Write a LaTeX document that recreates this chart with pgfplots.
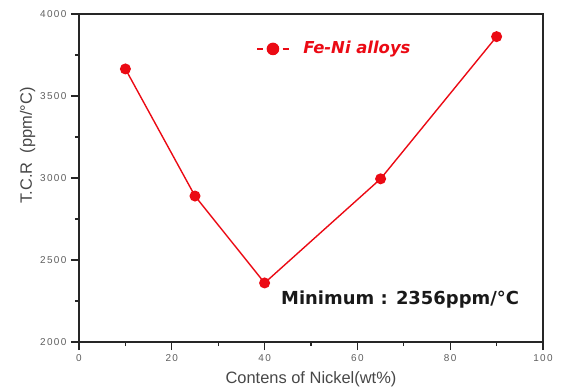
\documentclass[border=0pt]{standalone}
\usepackage{pgfplots}
\pgfplotsset{compat=1.18}
\usepackage{fontspec}
\setmainfont{Liberation Sans}
\newfontfamily\dejavu{DejaVu Sans}
\definecolor{lred}{RGB}{235,10,20}
\definecolor{tickgray}{RGB}{95,95,95}
\begin{document}
\begin{tikzpicture}
\path[use as bounding box] (-79bp,-48bp) rectangle (482bp,342bp);
\begin{axis}[
  at={(0,0)}, anchor=south west,
  scale only axis, width=464bp, height=328bp,
  xmin=0, xmax=100, ymin=2000, ymax=4000,
  xtick={0,20,...,100}, minor xtick={10,30,50,70,90},
  ytick={2000,2500,...,4000}, minor ytick={2250,2750,3250,3750},
  tick align=outside, xtick pos=bottom, ytick pos=left,
  major tick length=8bp, minor tick length=4bp,
  tick style={black!85, line width=1.2pt},
  axis line style={black!85, line width=1.5pt},
  /pgf/number format/assume math mode=true,
  /pgf/number format/1000 sep={},
  ticklabel style={font=\fontsize{10}{11}\selectfont\addfontfeature{LetterSpace=14}, text=tickgray},
  xticklabel style={yshift=-1bp},
  yticklabel style={xshift=-1bp},
  xlabel={Contens of Nickel(wt\%)},
  ylabel={T.C.R\ \ (ppm/°C)},
  label style={font=\fontsize{16.5}{18}\selectfont, text=black!72},
  xlabel style={yshift=-3bp},
  ylabel style={at={(ticklabel cs:0.6)}, yshift=-2bp},
]
\addplot[lred, line width=1.4pt, mark=*, mark size=4.8pt, mark options={fill=lred, draw=lred}]
  coordinates {(10,3665) (25,2890) (40,2360) (65,2995) (90,3862)};
\node[anchor=west, text=lred, font=\dejavu\fontsize{16.5}{18}\selectfont\bfseries\itshape, inner sep=0pt] at (axis cs:48.3,3787) {Fe-Ni alloys};
\draw[lred, line width=2.4pt] (axis cs:38.4,3787) -- (axis cs:39.6,3787);
\draw[lred, line width=2.4pt] (axis cs:43.9,3787) -- (axis cs:45.3,3787);
\fill[lred] (axis cs:41.8,3787) circle[radius=6.3bp];
\node[font=\dejavu\fontsize{18}{20}\selectfont\bfseries, text=black!90] at (axis cs:69.2,2256) {Minimum : 2356ppm/°C};
\end{axis}
\end{tikzpicture}
\end{document}
